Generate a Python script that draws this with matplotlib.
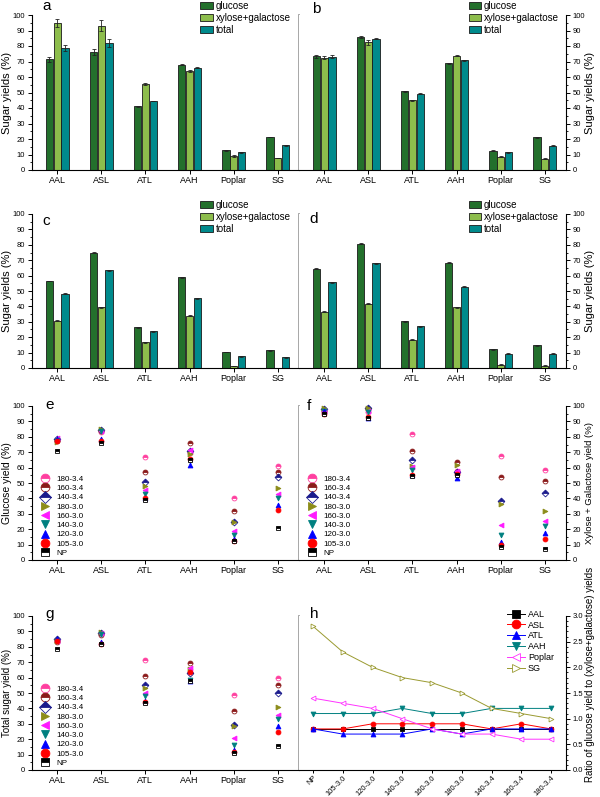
import numpy as np
import matplotlib
matplotlib.use("Agg")
import matplotlib.pyplot as plt
from matplotlib.patches import Patch
from matplotlib.ticker import MultipleLocator, FormatStrFormatter

plt.rcParams['font.family'] = ['Liberation Sans', 'DejaVu Sans']
plt.rcParams['font.size'] = 7

# ----------------------------
# Data
# ----------------------------
feedstocks = ["AAL", "ASL", "ATL", "AAH", "Poplar", "SG"]
sugars = ["glucose", "xylose+galactose", "total"]

# panel a
a_glucose = [71.5, 76.0, 41.0, 68.0, 12.7, 21.3]
a_xylgal = [95.0, 93.0, 55.5, 64.0, 9.0, 7.7]
a_total = [78.8, 82.0, 44.5, 66.0, 11.5, 16.0]
a_glucose_err = [1.5, 2.0, 0.4, 0.5, 0.5, 0.3]
a_xylgal_err = [2.5, 3.5, 0.5, 0.5, 0.6, 0.2]
a_total_err = [1.8, 2.5, 0.3, 0.4, 0.4, 0.2]

# panel b
b_glucose = [73.3, 85.7, 50.7, 68.8, 12.5, 21.2]
b_xylgal = [72.5, 82.3, 45.0, 73.7, 8.7, 7.3]
b_total = [73.1, 84.8, 49.2, 70.9, 11.3, 15.7]
b_glucose_err = [1.2, 0.6, 0.5, 0.4, 0.5, 0.3]
b_xylgal_err = [0.8, 1.5, 0.3, 0.3, 0.5, 0.2]
b_total_err = [1.0, 0.5, 0.4, 0.3, 0.4, 0.2]

# panel c
c_glucose = [56.5, 75.0, 26.3, 59.0, 10.4, 11.5]
c_xylgal = [30.7, 39.5, 16.8, 33.8, 1.3, 0.0]
c_total = [48.3, 63.5, 23.8, 45.2, 7.6, 7.1]

# panel d
d_glucose = [64.5, 80.7, 30.2, 68.5, 12.3, 14.8]
d_xylgal = [36.5, 41.8, 18.5, 39.3, 2.2, 1.5]
d_total = [55.8, 68.0, 27.0, 52.8, 9.4, 9.4]

conditions = ["180-3.4", "160-3.4", "140-3.4", "180-3.0", "160-3.0",
              "140-3.0", "120-3.0", "105-3.0", "NP"]

# panel e: glucose yield, rows = conditions, columns = feedstocks
e_glucose = [
    [78.0, 83.0, 67.0, 69.5, 40.0, 61.0],
    [77.5, 84.0, 57.0, 76.0, 31.5, 57.0],
    [78.5, 84.5, 50.5, 70.5, 25.0, 54.0],
    [76.5, 85.0, 48.0, 69.0, 25.0, 46.5],
    [79.0, 84.0, 45.5, 71.5, 19.0, 43.0],
    [78.0, 83.5, 43.0, 64.0, 16.0, 40.0],
    [78.5, 78.5, 40.5, 61.5, 13.5, 35.7],
    [77.0, 77.5, 40.0, 65.5, 12.5, 32.3],
    [71.0, 76.0, 39.0, 65.0, 12.5, 21.0],
]

# panel f: xylose + galactose yield
f_xylgal = [
    [96.0, 96.0, 81.5, 57.5, 67.5, 58.5],
    [97.0, 98.0, 70.5, 63.5, 54.0, 51.3],
    [98.0, 99.0, 65.0, 57.0, 38.0, 43.5],
    [98.5, 98.5, 61.0, 61.5, 36.5, 31.5],
    [97.0, 97.0, 60.5, 57.5, 22.5, 25.5],
    [97.0, 96.0, 58.5, 54.0, 16.0, 22.0],
    [97.0, 92.5, 55.0, 53.5, 11.5, 17.5],
    [95.0, 93.0, 55.5, 56.0, 10.0, 13.7],
    [94.5, 92.5, 54.5, 55.0, 8.5, 7.3],
]

# panel g: total sugar yield
g_total = [
    [84.5, 88.5, 71.3, 63.0, 48.5, 60.0],
    [83.0, 87.5, 61.0, 69.5, 38.5, 55.0],
    [85.0, 89.0, 55.0, 63.0, 29.3, 49.8],
    [84.0, 89.5, 53.0, 65.5, 28.5, 40.7],
    [84.0, 89.0, 50.0, 66.5, 20.5, 35.8],
    [84.0, 88.5, 48.0, 58.5, 16.5, 33.0],
    [85.0, 83.0, 44.5, 57.5, 13.0, 28.7],
    [83.5, 82.0, 44.0, 63.5, 12.0, 25.0],
    [78.5, 81.5, 43.5, 58.0, 11.3, 15.6],
]

# panel h: ratio glucose / (xylose+galactose)
h_conditions = ["NP", "105-3.0", "120-3.0", "140-3.0", "160-3.0",
                "180-3.0", "140-3.4", "160-3.4", "180-3.4"]
h_AAL = [0.8, 0.8, 0.8, 0.8, 0.8, 0.8, 0.8, 0.8, 0.8]
h_ASL = [0.8, 0.8, 0.9, 0.9, 0.9, 0.9, 0.8, 0.9, 0.8]
h_ATL = [0.8, 0.7, 0.7, 0.7, 0.8, 0.7, 0.8, 0.8, 0.8]
h_AAH = [1.1, 1.1, 1.1, 1.2, 1.1, 1.1, 1.2, 1.2, 1.2]
h_Poplar = [1.4, 1.3, 1.2, 1.0, 0.8, 0.7, 0.7, 0.6, 0.6]
h_SG = [2.8, 2.3, 2.0, 1.8, 1.7, 1.5, 1.2, 1.1, 1.0]

# ----------------------------
# Styles
# ----------------------------
bar_colors = ["#23702c", "#8dbd4c", "#008a8c"]
cond_styles = [
    dict(marker="o", color="#ff3f9f", fillstyle="top"),
    dict(marker="o", color="#8b1a1a", fillstyle="top"),
    dict(marker="D", color="#1a1a8c", fillstyle="top"),
    dict(marker=">", color="#8c8c1a", fillstyle="full"),
    dict(marker="<", color="#ff1aff", fillstyle="full"),
    dict(marker="v", color="#008080", fillstyle="full"),
    dict(marker="^", color="#0000ff", fillstyle="full"),
    dict(marker="o", color="#ff0000", fillstyle="full"),
    dict(marker="s", color="#000000", fillstyle="top"),
]
h_styles = [
    ("AAL", h_AAL, "#000000", "s", "full"),
    ("ASL", h_ASL, "#ff0000", "o", "full"),
    ("ATL", h_ATL, "#0000ff", "^", "full"),
    ("AAH", h_AAH, "#008080", "v", "full"),
    ("Poplar", h_Poplar, "#ff33ff", "<", "none"),
    ("SG", h_SG, "#9a9a30", ">", "none"),
]
SEP = "#a0a0a0"

fig = plt.figure(figsize=(6.0, 7.97), dpi=100)

L, M, R = 32 / 600, 299 / 600, 566 / 600
rows = [(15, 170), (214, 368), (406, 560), (616, 770)]


def make_axes(row, side):
    top, bot = rows[row]
    y0 = 1 - bot / 797
    h = (bot - top) / 797
    if side == "left":
        ax = fig.add_axes([L, y0, M - L, h])
        ax.spines["top"].set_visible(False)
        ax.spines["right"].set_color(SEP)
        ax.spines["right"].set_linewidth(1.3)
    else:
        ax = fig.add_axes([M, y0, R - M, h])
        ax.spines["top"].set_visible(False)
        ax.spines["left"].set_visible(False)
        ax.yaxis.tick_right()
        ax.yaxis.set_label_position("right")
    ax.tick_params(axis="both", direction="out", length=3, width=0.7, pad=2)
    ax.tick_params(axis="y", labelsize=5.5)
    ax.tick_params(axis="x", labelsize=6.5, pad=1.5)
    ax.tick_params(axis="y", which="minor", direction="out", length=1.5, width=0.6)
    ax.tick_params(axis="x", which="minor", bottom=False)
    return ax


def set_ylabel(ax, text, size, side, ypos=0.5):
    ax.set_ylabel(text, fontsize=size, rotation=90)
    xpos = (12 - 32) / 266 if side == "left" else (585 - 299) / 267
    ax.yaxis.set_label_coords(xpos, ypos)


def bar_panel(ax, vals, errs, side):
    x = np.arange(len(feedstocks))
    w = 0.165
    for i, (v, c) in enumerate(zip(vals, bar_colors)):
        ax.bar(x + (i - 1) * (w + 0.01), v, width=w, color=c,
               edgecolor="#1a1a1a", linewidth=0.6, yerr=errs[i],
               error_kw=dict(ecolor="#222222", elinewidth=0.6, capsize=1.5,
                             capthick=0.6))
    ax.set_xlim(-0.57, 5.48)
    ax.set_ylim(0, 100)
    ax.set_xticks(x)
    ax.set_xticklabels(feedstocks)
    ax.yaxis.set_major_locator(MultipleLocator(10))
    ax.yaxis.set_minor_locator(MultipleLocator(5))
    set_ylabel(ax, "Sugar yields (%)", 8, side)
    handles = [Patch(facecolor=c, edgecolor="#1a1a1a", linewidth=0.6, label=s)
               for c, s in zip(bar_colors, sugars)]
    bx = 0.63 if side == "left" else 0.635
    ax.legend(handles=handles, loc="upper left", bbox_to_anchor=(bx, 1.09),
              frameon=False, fontsize=7, handlelength=1.3, handleheight=0.8,
              handletextpad=0.3, labelspacing=0.2, borderpad=0, borderaxespad=0)


def scatter_panel(ax, table, ylabel, size, side):
    x = np.arange(len(feedstocks))
    for vals, name, st in zip(table, conditions, cond_styles):
        ax.plot(x, vals, linestyle="none", marker=st["marker"], markersize=3.5,
                color=st["color"], markeredgecolor=st["color"],
                fillstyle=st["fillstyle"], markerfacecoloralt="white",
                markeredgewidth=0.6, label=name, clip_on=False)
    ax.set_xlim(-0.57, 5.48)
    ax.set_ylim(0, 100)
    ax.set_xticks(x)
    ax.set_xticklabels(feedstocks)
    ax.yaxis.set_major_locator(MultipleLocator(10))
    ax.yaxis.set_minor_locator(MultipleLocator(5))
    set_ylabel(ax, ylabel, size, side)
    ax.legend(loc="lower left", bbox_to_anchor=(0.03, 0.02), frameon=False,
              fontsize=5.8, markerscale=1.8, handlelength=1.2, handletextpad=0.8,
              labelspacing=0.2, borderpad=0, borderaxespad=0)


# ----------------------------
# Bar panels a-d
# ----------------------------
ax_a = make_axes(0, "left")
bar_panel(ax_a, [a_glucose, a_xylgal, a_total],
          [a_glucose_err, a_xylgal_err, a_total_err], "left")
ax_b = make_axes(0, "right")
bar_panel(ax_b, [b_glucose, b_xylgal, b_total],
          [b_glucose_err, b_xylgal_err, b_total_err], "right")
ax_c = make_axes(1, "left")
bar_panel(ax_c, [c_glucose, c_xylgal, c_total],
          [[0.3] * 6, [0.3] * 6, [0.3] * 6], "left")
ax_d = make_axes(1, "right")
bar_panel(ax_d, [d_glucose, d_xylgal, d_total],
          [[0.3] * 6, [0.3] * 6, [0.3] * 6], "right")

# ----------------------------
# Scatter panels e-g
# ----------------------------
ax_e = make_axes(2, "left")
scatter_panel(ax_e, e_glucose, "Glucose yield (%)", 7.5, "left")
ax_f = make_axes(2, "right")
scatter_panel(ax_f, f_xylgal, "Xylose + Galactose yield (%)", 6.8, "right")
ax_g = make_axes(3, "left")
scatter_panel(ax_g, g_total, "Total sugar yield (%)", 7, "left")

# ----------------------------
# Ratio panel h
# ----------------------------
ax_h = make_axes(3, "right")
xh = np.arange(len(h_conditions))
for name, vals, c, m, fs in h_styles:
    ax_h.plot(xh, vals, color=c, linewidth=0.7, marker=m, markersize=3.5,
              markerfacecolor=c if fs == "full" else "white",
              markeredgecolor=c, markeredgewidth=0.6, label=name)
ax_h.set_xlim(-0.47, 8.5)
ax_h.set_ylim(0, 3.0)
ax_h.set_xticks(xh)
ax_h.set_xticklabels(h_conditions, rotation=45, ha="right",
                     rotation_mode="anchor", fontsize=5.4)
ax_h.tick_params(axis="x", pad=0.5, length=2.5)
ax_h.yaxis.set_major_locator(MultipleLocator(0.5))
ax_h.yaxis.set_minor_locator(MultipleLocator(0.1))
ax_h.yaxis.set_major_formatter(FormatStrFormatter("%.1f"))
set_ylabel(ax_h, "Ratio of glucose yield to (xylose+galactose) yields", 7,
           "right", ypos=0.62)
ax_h.legend(loc="upper left", bbox_to_anchor=(0.78, 1.04), frameon=False,
            fontsize=6.5, markerscale=1.8, handlelength=2.0, handletextpad=0.3,
            labelspacing=0.2, borderpad=0, borderaxespad=0)

# ----------------------------
# Panel letters
# ----------------------------
letters = [(ax_a, "a", 0.038, 1.032), (ax_b, "b", 0.047, 1.013),
           (ax_c, "c", 0.04, 0.93), (ax_d, "d", 0.04, 0.94),
           (ax_e, "e", 0.05, 0.98), (ax_f, "f", 0.03, 0.975),
           (ax_g, "g", 0.05, 0.99), (ax_h, "h", 0.04, 0.99)]
for ax, s, lx, ly in letters:
    ax.text(lx, ly, s, transform=ax.transAxes, fontsize=11,
            va="baseline", ha="left")

fig.savefig("out.png", dpi=100)
